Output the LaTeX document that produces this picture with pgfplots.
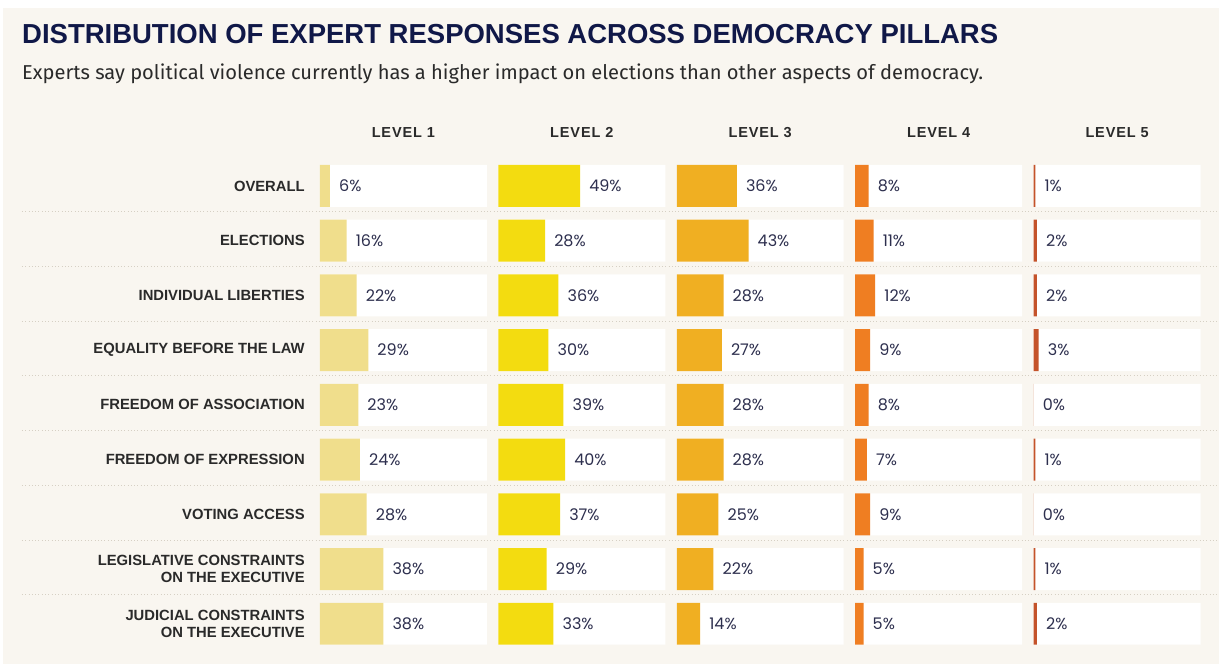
\documentclass[border=0pt]{standalone}
\usepackage{pgfplots}
\pgfplotsset{compat=1.18}
\usepackage{pgfplotstable}
\usepackage{fontspec}
\setmainfont{Liberation Sans}
\newfontfamily\labfont{Poppins}
\newfontfamily\subfont{Fira Sans}
\definecolor{bgc}{HTML}{F9F6F0}
\definecolor{cA}{HTML}{F0DE8C}
\definecolor{cB}{HTML}{F3DC10}
\definecolor{cC}{HTML}{F0AF22}
\definecolor{cD}{HTML}{EF7E22}
\definecolor{cE}{HTML}{C4532A}
\definecolor{titlec}{HTML}{101848}
\definecolor{valc}{HTML}{2D2F4E}
\definecolor{rowc}{HTML}{2A2A2A}
\definecolor{dotc}{HTML}{D6D0C4}

\pgfplotstableread{
row full l1 l2 l3 l4 l5
1 100 6 49 36 8 1
2 100 16 28 43 11 2
3 100 22 36 28 12 2
4 100 29 30 27 9 3
5 100 23 39 28 8 0
6 100 24 40 28 7 1
7 100 28 37 25 9 0
8 100 38 29 22 5 1
9 100 38 33 14 5 2
}\data

\pgfplotsset{
  panelstyle/.style={
    scale only axis, width=167pt, height=492.75pt,
    anchor=north west,
    xmin=0, xmax=100, ymin=0.5, ymax=9.5, y dir=reverse,
    axis line style={draw=none}, tick style={draw=none},
    major tick length=0pt,
    xtick=\empty, ytick=\empty,
    clip=false,
    title style={at={(0.5,1)}, anchor=base, yshift=14.6pt,
      font=\fontsize{14.5}{16}\selectfont\bfseries\addfontfeatures{LetterSpace=6}, text=rowc},
  },
  valbars/.style={
    xbar, bar width=42pt, bar shift=0pt, fill=#1, draw=none,
    point meta=x,
    nodes near coords={\pgfmathprintnumber[fixed,precision=0,assume math mode=true]{\pgfplotspointmeta}\%},
    nodes near coords align={horizontal},
    every node near coord/.append style={anchor=west, inner sep=0pt, xshift=9pt,
      font=\labfont\fontsize{16}{18}\selectfont, text=valc},
  },
  bgbars/.style={xbar, bar width=42pt, bar shift=0pt, fill=white, draw=none},
}

\begin{document}
\begin{tikzpicture}
\fill[white] (0pt,0pt) rectangle (1219pt,-664pt);
\fill[bgc] (3pt,-8pt) rectangle (1219pt,-664pt);
\node[anchor=base west, inner sep=0pt, text=titlec, font=\fontsize{27.5}{30}\selectfont\bfseries] at (22pt,-44pt)
  {DISTRIBUTION OF EXPERT RESPONSES ACROSS DEMOCRACY PILLARS};
\node[anchor=base west, inner sep=0pt, text=rowc, font=\subfont\fontsize{20.1}{24}\selectfont] at (22pt,-80pt)
  {Experts say political violence currently has a higher impact on elections than other aspects of democracy.};
\foreach \i in {1,...,8} {
  \draw[dotc, line width=0.9pt, dash pattern=on 0.9pt off 2.4pt] (22pt,{-(157+\i*54.75)*1pt}) -- (1219pt,{-(157+\i*54.75)*1pt});
}

\begin{axis}[panelstyle, at={(320pt,-158.6pt)}, title={LEVEL 1},
  ytick={1,...,9},
  yticklabels={OVERALL, ELECTIONS, INDIVIDUAL LIBERTIES, EQUALITY BEFORE THE LAW, FREEDOM OF ASSOCIATION, FREEDOM OF EXPRESSION, VOTING ACCESS, {LEGISLATIVE CONSTRAINTS\\ON THE EXECUTIVE}, {JUDICIAL CONSTRAINTS\\ON THE EXECUTIVE}},
  yticklabel style={align=right, inner sep=0pt, xshift=-15pt, font=\fontsize{14.8}{16.5}\selectfont\bfseries, text=rowc},
]
\addplot[bgbars] table[x=full, y=row]{\data};
\addplot[valbars=cA] table[x=l1, y=row]{\data};
\end{axis}

\begin{axis}[panelstyle, at={(498.5pt,-158.6pt)}, title={LEVEL 2}]
\addplot[bgbars] table[x=full, y=row]{\data};
\addplot[valbars=cB] table[x=l2, y=row]{\data};
\end{axis}

\begin{axis}[panelstyle, at={(677pt,-158.6pt)}, title={LEVEL 3}]
\addplot[bgbars] table[x=full, y=row]{\data};
\addplot[valbars=cC] table[x=l3, y=row]{\data};
\end{axis}

\begin{axis}[panelstyle, at={(855.5pt,-158.6pt)}, title={LEVEL 4}]
\addplot[bgbars] table[x=full, y=row]{\data};
\addplot[valbars=cD] table[x=l4, y=row]{\data};
\end{axis}

\begin{axis}[panelstyle, at={(1034pt,-158.6pt)}, title={LEVEL 5}]
\addplot[bgbars] table[x=full, y=row]{\data};
\addplot[valbars=cE] table[x=l5, y=row]{\data};
\end{axis}
\end{tikzpicture}
\end{document}
